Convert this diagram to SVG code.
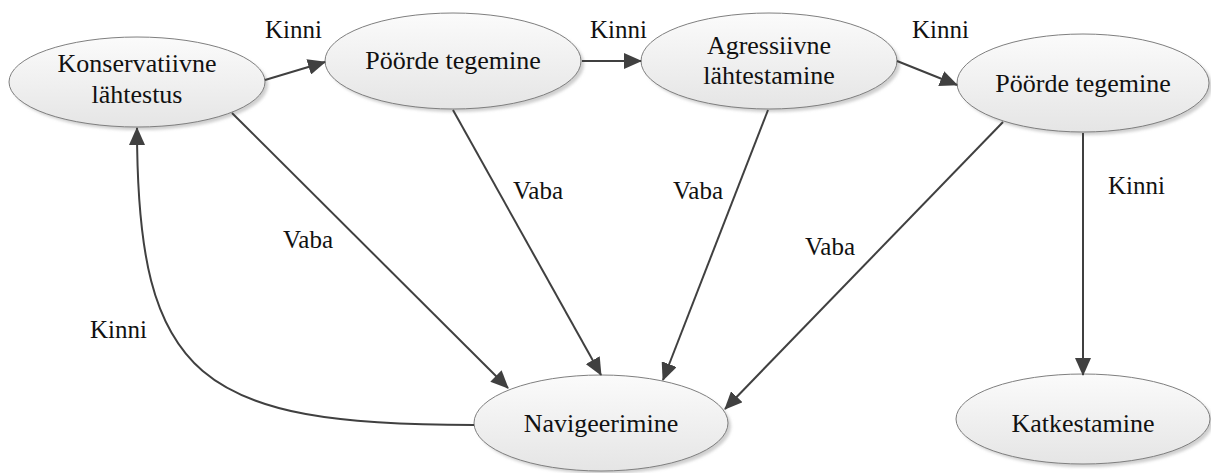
<svg xmlns="http://www.w3.org/2000/svg" width="1211" height="473" viewBox="0 0 1211 473">
<style>
.node ellipse.body{fill:url(#g);stroke:#7f7f7f;stroke-width:1}
.node ellipse.sh{fill:#cfcfcf;filter:url(#blur)}
text{fill:#111;font-family:"Liberation Serif","Times New Roman",serif}
.nt{font-size:26px;text-anchor:middle}
.lb{font-size:25px}
.edges path{fill:none;stroke:#404040;stroke-width:2;marker-end:url(#arr)}
</style>
<defs>
<linearGradient id="g" x1="0" y1="0" x2="0" y2="1">
<stop offset="0" stop-color="#fbfbfb"/>
<stop offset="1" stop-color="#e5e5e5"/>
</linearGradient>
<filter id="blur" x="-10%" y="-10%" width="120%" height="130%"><feGaussianBlur stdDeviation="1.5"/></filter>
<marker id="arr" markerUnits="userSpaceOnUse" viewBox="0 0 18 16" markerWidth="18" markerHeight="16" refX="17" refY="8" orient="auto">
<path d="M0,0 L18,8 L0,16 z" fill="#404040"/>
</marker>
</defs>
<rect width="1211" height="473" fill="#fff"/>
<g id="n1" class="node">
<ellipse class="sh" cx="140" cy="85" rx="128" ry="45"/>
<ellipse class="body" cx="137" cy="82" rx="128" ry="45"/>
<text class="nt" x="137" y="72">Konservatiivne</text>
<text class="nt" x="137" y="103">lähtestus</text>
</g>
<g id="n2" class="node">
<ellipse class="sh" cx="456" cy="64" rx="128" ry="48"/>
<ellipse class="body" cx="453" cy="61" rx="128" ry="48"/>
<text class="nt" x="453" y="69">Pöörde tegemine</text>
</g>
<g id="n3" class="node">
<ellipse class="sh" cx="772" cy="64" rx="128" ry="48"/>
<ellipse class="body" cx="769" cy="61" rx="128" ry="48"/>
<text class="nt" x="769" y="54">Agressiivne</text>
<text class="nt" x="769" y="84">lähtestamine</text>
</g>
<g id="n4" class="node">
<ellipse class="sh" cx="1086" cy="86" rx="126" ry="49"/>
<ellipse class="body" cx="1083" cy="83" rx="126" ry="49"/>
<text class="nt" x="1083" y="92">Pöörde tegemine</text>
</g>
<g id="n5" class="node">
<ellipse class="sh" cx="604" cy="426" rx="127" ry="48"/>
<ellipse class="body" cx="601" cy="423" rx="127" ry="48"/>
<text class="nt" x="601" y="432">Navigeerimine</text>
</g>
<g id="n6" class="node">
<ellipse class="sh" cx="1086" cy="422" rx="127" ry="45"/>
<ellipse class="body" cx="1083" cy="419" rx="127" ry="45"/>
<text class="nt" x="1083" y="432">Katkestamine</text>
</g>
<g id="edges" class="edges">
<path d="M265,80 L325,62"/>
<path d="M582,61 L641,61"/>
<path d="M897,61 L957,85"/>
<path d="M232,113 L508,388"/>
<path d="M453,110 L601,375"/>
<path d="M768,110 L663,380"/>
<path d="M1003,122 L725,409"/>
<path d="M1083,133 L1083,375"/>
<path d="M474,425 C200,425 137,380 137,128"/>
</g>
<g id="labels">
<text class="lb" x="265" y="38">Kinni</text>
<text class="lb" x="590" y="38">Kinni</text>
<text class="lb" x="912" y="38">Kinni</text>
<text class="lb" x="283" y="248">Vaba</text>
<text class="lb" x="513" y="199">Vaba</text>
<text class="lb" x="673" y="199">Vaba</text>
<text class="lb" x="805" y="255">Vaba</text>
<text class="lb" x="1108" y="194">Kinni</text>
<text class="lb" x="90" y="338">Kinni</text>
</g>
</svg>
